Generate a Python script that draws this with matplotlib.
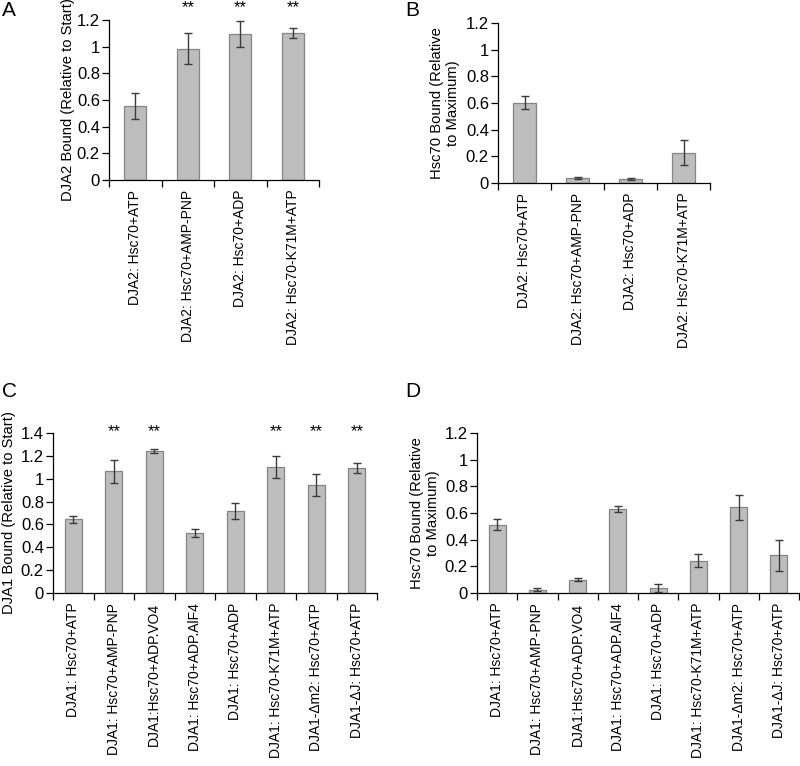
import matplotlib
matplotlib.use("Agg")
import matplotlib.pyplot as plt

plt.rcParams['font.family'] = ['Liberation Sans', 'DejaVu Sans']
plt.rcParams['font.size'] = 10

# Panel A
labels_a = ["DJA2: Hsc70+ATP", "DJA2: Hsc70+AMP-PNP", "DJA2: Hsc70+ADP", "DJA2: Hsc70-K71M+ATP"]
values_a = [0.555, 0.985, 1.095, 1.105]
errors_a = [0.095, 0.118, 0.100, 0.037]
stars_a = ["", "**", "**", "**"]

# Panel B
labels_b = ["DJA2: Hsc70+ATP", "DJA2: Hsc70+AMP-PNP", "DJA2: Hsc70+ADP", "DJA2: Hsc70-K71M+ATP"]
values_b = [0.603, 0.040, 0.028, 0.228]
errors_b = [0.048, 0.008, 0.008, 0.095]

# Panel C
labels_c = ["DJA1: Hsc70+ATP", "DJA1: Hsc70+AMP-PNP", "DJA1:Hsc70+ADP.VO4", "DJA1: Hsc70+ADP.AlF4",
            "DJA1: Hsc70+ADP", "DJA1: Hsc70-K71M+ATP", "DJA1-\u0394m2: Hsc70+ATP", "DJA1-\u0394J: Hsc70+ATP"]
values_c = [0.645, 1.064, 1.242, 0.525, 0.717, 1.102, 0.945, 1.094]
errors_c = [0.033, 0.100, 0.018, 0.035, 0.069, 0.100, 0.098, 0.044]
stars_c = ["", "**", "**", "", "", "**", "**", "**"]

# Panel D
labels_d = labels_c
values_d = [0.513, 0.025, 0.100, 0.630, 0.037, 0.243, 0.643, 0.283]
errors_d = [0.039, 0.010, 0.012, 0.020, 0.030, 0.049, 0.092, 0.115]

W, H = 800, 766
fig = plt.figure(figsize=(W / 100, H / 100), dpi=100)


def make_ax(left, top, right, bottom):
    return fig.add_axes([left / W, 1 - bottom / H, (right - left) / W, (bottom - top) / H])


def draw(ax, labels, values, errors, ymax, ystep, ylabel, label_x, stars=None, star_y=None):
    n = len(values)
    x = list(range(n))
    ax.bar(x, values, width=0.42, color="#bdbdbd", edgecolor="#858585", linewidth=0.9, zorder=2)
    ax.errorbar(x, values, yerr=errors, fmt="none", ecolor="#3a3a3a", elinewidth=1.0,
                capsize=3, capthick=1.0, zorder=3)
    ax.set_xlim(-0.5, n - 0.5)
    ax.set_ylim(0, ymax)
    ticks = [round(i * ystep, 2) for i in range(int(round(ymax / ystep)) + 1)]
    ax.set_yticks(ticks)
    ax.set_yticklabels([f"{t:g}" for t in ticks])
    ax.set_xticks([i + 0.5 for i in range(-1, n)], minor=False)
    ax.set_xticklabels([])
    ax.set_xticks(x, minor=True)
    ax.set_xticklabels(labels, minor=True, rotation=90, fontsize=10)
    ax.tick_params(axis="x", which="minor", length=0, pad=7)
    ax.tick_params(axis="x", which="major", length=5, direction="out", width=0.9)
    ax.tick_params(axis="y", length=5, direction="out", width=0.9, labelsize=12, pad=1.5)
    for s in ["top", "right"]:
        ax.spines[s].set_visible(False)
    for s in ["left", "bottom"]:
        ax.spines[s].set_linewidth(0.9)
    pos = ax.get_position()
    fig.text(label_x / W, pos.y0 + pos.height / 2, ylabel, rotation=90, ha="center", va="center",
             fontsize=10.6, linespacing=1.15, multialignment="center")
    if stars:
        for xi, s in zip(x, stars):
            if s:
                ax.text(xi, star_y, s, ha="center", va="center", fontsize=12, clip_on=False)


axA = make_ax(109, 20, 319, 180)
draw(axA, labels_a, values_a, errors_a, 1.2, 0.2, "DJA2 Bound (Relative to Start)", 68, stars_a, 1.29)
axB = make_ax(498, 23, 710, 183)
draw(axB, labels_b, values_b, errors_b, 1.2, 0.2, "Hsc70 Bound (Relative\nto Maximum)", 445)
axC = make_ax(53, 433, 377, 593)
draw(axC, labels_c, values_c, errors_c, 1.4, 0.2, "DJA1 Bound (Relative to Start)", 9, stars_c, 1.41)
axD = make_ax(477, 433, 799, 593)
draw(axD, labels_d, values_d, errors_d, 1.2, 0.2, "Hsc70 Bound (Relative\nto Maximum)", 425)

for lab, px, py in [("A", 2, 11), ("B", 405, 11), ("C", 2, 391), ("D", 405, 391)]:
    fig.text(px / W, 1 - py / H, lab, fontsize=15, ha="left", va="center")

fig.savefig("out.png", dpi=100)
